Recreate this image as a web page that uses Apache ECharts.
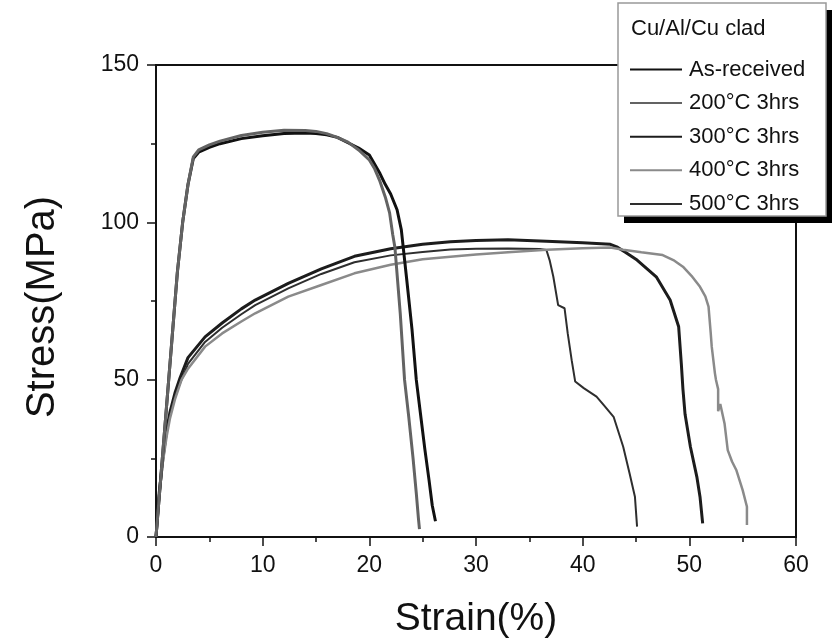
<!DOCTYPE html>
<html>
<head>
<meta charset="utf-8">
<script src="https://cdn.jsdelivr.net/npm/echarts@6/dist/echarts.min.js"></script>
<style>
html,body{margin:0;padding:0;background:#fff;}
#c{width:833px;height:642px;}
</style>
</head>
<body>
<div id="c"></div>
<script>
var seriesNames = ['As-received', '200\u00B0C 3hrs', '300\u00B0C 3hrs', '400\u00B0C 3hrs', '500\u00B0C 3hrs'];
var legendTitle = 'Cu/Al/Cu clad';
var xTicks = [0, 10, 20, 30, 40, 50, 60];
var yTicks = [0, 50, 100, 150];

var asReceived = [[0,0],[0.5,21],[1.0,42],[1.5,63],[2.0,84],[2.5,100],[3.0,112],[3.5,120.3],[4.0,122.3],[5,123.8],[6,125],[8,126.6],[10,127.5],[12,128.2],[14,128.4],[15,128.2],[16,127.8],[17,127],[18,125.3],[19,123.6],[20,121.4],[21,115.5],[21.5,112],[22,109],[22.6,104],[23,97.6],[23.5,82],[24,66],[24.4,50],[24.8,39],[25.2,28],[25.6,18],[25.9,10],[26.2,5]];
var t200 = [[0,0],[0.5,21],[1.0,42],[1.5,63],[2.0,84],[2.5,100],[3.0,112],[3.5,120.8],[4.0,123],[5,124.6],[6,125.8],[8,127.6],[10,128.6],[12,129.3],[14,129.2],[15,128.9],[16,128.2],[17,127],[18,125.5],[19,123],[20,119.8],[20.5,117],[21,113],[21.5,108],[21.9,103],[22.2,96],[22.4,92],[22.9,71],[23.3,50],[23.7,38],[24.1,25],[24.4,14],[24.6,6],[24.7,2.5]];
var t300 = [[0,0],[0.3,14],[0.65,25],[1.0,34],[1.3,39.5],[1.8,46],[2.25,50.5],[3.0,57],[4.6,63.6],[6.2,68],[8,72.5],[9.3,75.3],[12.4,80.6],[15.5,85.2],[18.6,89.2],[22,91.6],[25,93],[27.6,93.8],[30,94.2],[33,94.5],[36.6,94],[40,93.5],[42.6,93],[43.2,92.2],[44,90.5],[45.1,88],[46.9,82.7],[48.2,75.3],[49,66.8],[49.25,55],[49.4,47],[49.6,39],[50.1,28.7],[50.7,19.2],[51.0,12.8],[51.25,4.3]];
var t400 = [[0,0],[0.3,13],[0.65,24],[1.0,32],[1.3,37.5],[1.8,44],[2.4,50],[3.0,53.5],[4.6,60.5],[6.2,64.7],[8,68.5],[9.3,71.1],[12.4,76.4],[15.5,80.1],[18.6,83.8],[22,86.5],[25,88.3],[27.6,89.1],[30,89.8],[33,90.5],[36.6,91.3],[40,91.8],[42.6,92.0],[43.8,91.3],[45.5,90.5],[47.5,89.6],[48.5,88],[49.4,85.9],[50.2,83],[51,79.5],[51.5,76.5],[51.8,73.2],[52.0,65],[52.1,60.5],[52.4,52],[52.5,49.9],[52.7,47],[52.7,40],[52.9,42.3],[53.3,36.1],[53.6,27.6],[54.0,24],[54.4,21.3],[55.0,14.9],[55.4,9.6],[55.4,3.8]];
var t500 = [[0,0],[0.3,13.5],[0.65,24.5],[1.0,33],[1.3,38.5],[1.8,45],[2.4,50],[3.0,55],[4.6,62],[6.2,66.5],[8,70.8],[9.3,73.7],[12.4,79],[15.5,83.6],[18.6,87.3],[22,89.5],[25,90.6],[27.6,91.4],[30,91.6],[33,91.7],[36,91.5],[36.6,91.2],[36.9,88],[37.25,82.7],[37.7,73.7],[38.3,72.7],[38.6,64.7],[38.97,56.2],[39.3,49.4],[40.1,47.3],[41.3,44.6],[42.0,41.8],[42.9,38.2],[43.8,28.7],[44.4,20.2],[44.9,12.8],[45.1,3.3]];

var seriesData = [asReceived, t200, t300, t400, t500];
var colors = ['#111111', '#636363', '#1c1c1c', '#8a8a8a', '#2e2e2e'];
var widths = [3, 3, 3, 2.5, 2];
var drawOrder = [2, 4, 3, 0, 1];

var FONT = 'Arial, "Liberation Sans", sans-serif';
var chart = echarts.init(document.getElementById('c'), null, {renderer: 'canvas'});

var series = drawOrder.map(function (i, k) {
  return {
    name: seriesNames[i],
    type: 'line',
    data: seriesData[i],
    symbol: 'none',
    smooth: false,
    z: 2 + k,
    lineStyle: {color: colors[i], width: widths[i]},
    itemStyle: {color: colors[i]}
  };
});

var axisCommon = {
  type: 'value',
  axisLine: {show: true, lineStyle: {color: '#111', width: 2}},
  axisTick: {show: true, inside: false, length: 9, lineStyle: {color: '#111', width: 1.5}},
  minorTick: {show: true, splitNumber: 2, length: 5, lineStyle: {color: '#111', width: 1.5}},
  splitLine: {show: false},
  minorSplitLine: {show: false},
  axisLabel: {color: '#111', fontSize: 23, fontFamily: FONT}
};

chart.setOption({
  backgroundColor: '#ffffff',
  animation: false,
  textStyle: {fontFamily: FONT},
  grid: {left: 156, right: 37, top: 65, bottom: 105, show: true, borderColor: '#111', borderWidth: 2, containLabel: false, outerBoundsMode: 'none'},
  xAxis: Object.assign({}, axisCommon, {
    min: xTicks[0], max: xTicks[xTicks.length - 1], interval: xTicks[1] - xTicks[0],
    name: 'Strain(%)', nameLocation: 'middle', nameGap: 63,
    nameTextStyle: {fontSize: 39, color: '#111', fontFamily: FONT},
    axisLabel: Object.assign({}, axisCommon.axisLabel, {margin: 17})
  }),
  yAxis: Object.assign({}, axisCommon, {
    min: yTicks[0], max: yTicks[yTicks.length - 1], interval: yTicks[1] - yTicks[0],
    name: 'Stress(MPa)', nameLocation: 'middle', nameGap: 93, nameRotate: 90,
    nameTextStyle: {fontSize: 40, color: '#111', fontFamily: FONT, padding: [0, 12, 0, 0]},
    axisLabel: Object.assign({}, axisCommon.axisLabel, {margin: 17})
  }),
  legend: {
    show: true,
    data: seriesNames,
    orient: 'vertical',
    left: 630, top: 58.5,
    icon: 'path://M0,0L52,0L52,2L0,2Z',
    itemWidth: 52, itemHeight: 20, itemGap: 11.6,
    padding: 0,
    z: 60,
    selectedMode: false,
    textStyle: {fontSize: 22, color: '#111', fontFamily: FONT, lineHeight: 20, padding: [0, 0, 0, 2]}
  },
  graphic: [
    {type: 'rect', z: 50, shape: {x: 624, y: 10, width: 208, height: 213}, style: {fill: '#000'}},
    {type: 'rect', z: 51, shape: {x: 618, y: 3, width: 208, height: 213}, style: {fill: '#fff', stroke: '#999', lineWidth: 1.5}},
    {type: 'text', z: 52, style: {x: 631, y: 29, text: legendTitle, fill: '#111', fontSize: 22, fontFamily: FONT, verticalAlign: 'middle', align: 'left'}}
  ],
  series: series
});
</script>
</body>
</html>
